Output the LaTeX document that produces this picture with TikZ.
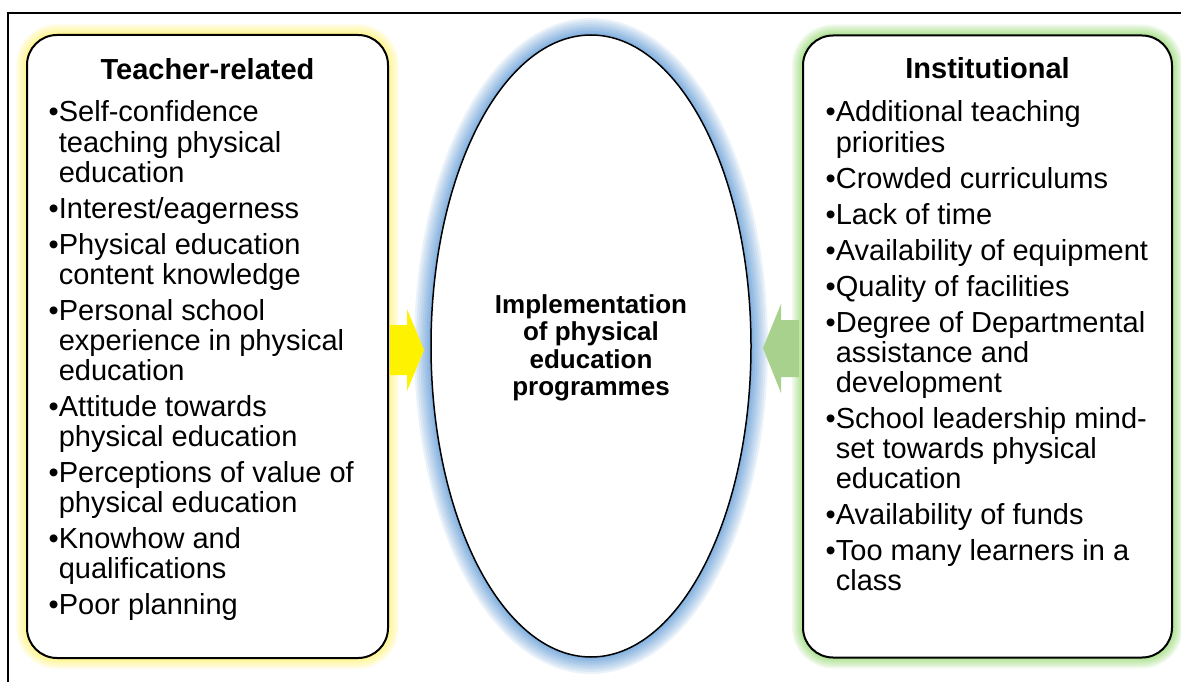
\documentclass[tikz,border=0pt]{standalone}
\usepackage{fontspec}
\setmainfont{Liberation Sans}
\usetikzlibrary{positioning,shapes.geometric}

\definecolor{glowyellow}{RGB}{255,245,110}
\definecolor{glowgreen}{RGB}{150,220,115}
\definecolor{glowblue}{RGB}{95,155,215}
\definecolor{arrowgreen}{RGB}{169,209,142}

\newcommand{\bodyfont}{\fontsize{29}{30}\selectfont}

\tikzset{
  glow/.style 2 args={preaction={draw=#1, line width=#2, opacity=.12},
               preaction={draw=#1, line width=.875*#2, opacity=.12},
               preaction={draw=#1, line width=.75*#2, opacity=.12},
               preaction={draw=#1, line width=.625*#2, opacity=.12},
               preaction={draw=#1, line width=.5*#2, opacity=.14},
               preaction={draw=#1, line width=.375*#2, opacity=.16},
               preaction={draw=#1, line width=.25*#2, opacity=.2},
               preaction={draw=#1, line width=.125*#2, opacity=.25}},
  factorbox/.style={draw, line width=2, rounded corners=30, fill=white, inner sep=0},
  boxtitle/.style={font=\bodyfont\bfseries, inner sep=0, anchor=base},
  factorlist/.style={font=\bodyfont, inner sep=0, anchor=base west},
}

\begin{document}
\begin{tikzpicture}[x=1pt, y=-1pt]
  \useasboundingbox (0,0) rectangle (1181,682);
  \fill[white] (0,0) rectangle (1181,682);

  % outer frame (cut at right and bottom)
  \draw[line width=2] (8,682) -- (8,13) -- (1181,13);

  % the two factor boxes and the centre ellipse
  \node[factorbox, glow={glowyellow}{22}, minimum width=361, minimum height=623] (teacher) at (207.5,346.5) {};
  \node[factorbox, glow={glowgreen}{22}, minimum width=369, minimum height=622] (institution) at (987.5,346.5) {};
  \node[ellipse, draw, line width=1.5, fill=white, inner sep=0, glow={glowblue}{34},
        minimum width=320, minimum height=622] (impl) at (591,346) {};

  % block arrows
  \fill[yellow] (390,325) -- (407,325) -- (407,309) -- (424,350)
    -- (407,391) -- (407,375) -- (390,375) -- cycle;
  \fill[arrowgreen] (799,320) -- (781,320) -- (781,304) -- (763,348)
    -- (781,393) -- (781,377) -- (799,377) -- cycle;

  \node[boxtitle] (teachertitle) at (207.5,80) {Teacher-related};
  \node[factorlist] (teacherlist) at (48.5,122) {\begin{tabular}[t]{@{}l@{}l@{}}
    •&Self-confidence\\ &teaching physical\\ &education\\[6pt]
    •&Interest/eagerness\\[6pt]
    •&Physical education\\ &content knowledge\\[6pt]
    •&Personal school\\ &experience in physical\\ &education\\[6pt]
    •&Attitude towards\\ &physical education\\[6pt]
    •&Perceptions of value of\\ &physical education\\[6pt]
    •&Knowhow and\\ &qualifications\\[6pt]
    •&Poor planning
  \end{tabular}};

  \node[boxtitle] (institutiontitle) at (987.5,79) {Institutional};
  \node[factorlist] (institutionlist) at (825.5,122) {\begin{tabular}[t]{@{}l@{}l@{}}
    •&Additional teaching\\ &priorities\\[6pt]
    •&Crowded curriculums\\[6pt]
    •&Lack of time\\[6pt]
    •&Availability of equipment\\[6pt]
    •&Quality of facilities\\[6pt]
    •&Degree of Departmental\\ &assistance and\\ &development\\[6pt]
    •&School leadership mind-\\ &set towards physical\\ &education\\[6pt]
    •&Availability of funds\\[6pt]
    •&Too many learners in a\\ &class
  \end{tabular}};

  \node[font=\fontsize{26}{27.5}\selectfont\bfseries, inner sep=0, anchor=base] (impltext) at (591,313)
    {\begin{tabular}[t]{@{}c@{}}Implementation\\of physical\\education\\programmes\end{tabular}};
\end{tikzpicture}
\end{document}
